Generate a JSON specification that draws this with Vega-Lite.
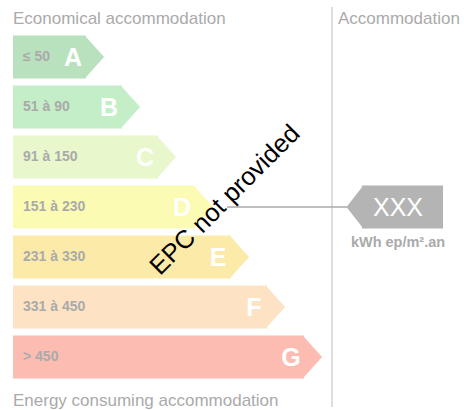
{
  "$schema": "https://vega.github.io/schema/vega-lite/v6.json",
  "width": 464,
  "height": 410,
  "padding": 0,
  "autosize": {"type": "none"},
  "background": "white",
  "config": {"view": {"stroke": null}, "text": {"font": "Liberation Sans"}},
  "datasets": {
    "bands": [
      {"letter": "A", "range": "≤ 50", "start": 13, "end": 86},
      {"letter": "B", "range": "51 à 90", "start": 13, "end": 122},
      {"letter": "C", "range": "91 à 150", "start": 13, "end": 158},
      {"letter": "D", "range": "151 à 230", "start": 13, "end": 195},
      {"letter": "E", "range": "231 à 330", "start": 13, "end": 231},
      {"letter": "F", "range": "331 à 450", "start": 13, "end": 267},
      {"letter": "G", "range": "> 450", "start": 13, "end": 304}
    ],
    "marker": [
      {"row": "D", "label": "XXX", "unit": "kWh ep/m².an", "left": 362, "right": 443, "lineStart": 227, "center": 398}
    ],
    "titles": [
      {"row": "top", "x": 13, "text": "Economical accommodation"},
      {"row": "top", "x": 338, "text": "Accommodation"}
    ],
    "bottomTitle": [
      {"row": "bottom", "x": 13, "text": "Energy consuming accommodation"}
    ],
    "divider": [{"x": 332, "from": "top", "to": "bottom"}],
    "stamp": [{"row": "D", "x": 218, "text": "EPC not provided"}]
  },
  "layer": [
    {
      "data": {"name": "divider"},
      "mark": {"type": "rule", "color": "#dddddd", "strokeWidth": 2},
      "encoding": {
        "x": {"field": "x", "type": "quantitative", "scale": {"domain": [0, 464], "nice": false, "zero": false}, "axis": null},
        "y": {"field": "from", "type": "nominal", "scale": {"domain": ["top", "A", "B", "C", "D", "E", "F", "G", "bottom"], "range": [-18, 432], "paddingInner": 0.14, "paddingOuter": 0.07}, "axis": null},
        "y2": {"field": "to"}
      }
    },
    {
      "data": {"name": "bands"},
      "mark": {"type": "rect"},
      "encoding": {
        "x": {"field": "start", "type": "quantitative", "scale": {"domain": [0, 464], "nice": false, "zero": false}, "axis": null},
        "x2": {"field": "end"},
        "y": {"field": "letter", "type": "nominal", "scale": {"domain": ["top", "A", "B", "C", "D", "E", "F", "G", "bottom"], "range": [-18, 432], "paddingInner": 0.14, "paddingOuter": 0.07}, "axis": null},
        "color": {"field": "letter", "type": "nominal", "scale": {"domain": ["A", "B", "C", "D", "E", "F", "G"], "range": ["#b9e1be", "#c4eec8", "#e8f8cc", "#fbfbb4", "#fbeaa8", "#fde3c4", "#fcbcb2"]}, "legend": null}
      }
    },
    {
      "data": {"name": "bands"},
      "mark": {"type": "point", "shape": "M-0.06,-1L0.84,0L-0.06,1Z", "size": 1849, "filled": true, "opacity": 1, "strokeWidth": 0},
      "encoding": {
        "x": {"field": "end", "type": "quantitative", "scale": {"domain": [0, 464], "nice": false, "zero": false}, "axis": null},
        "y": {"field": "letter", "type": "nominal", "scale": {"domain": ["top", "A", "B", "C", "D", "E", "F", "G", "bottom"], "range": [-18, 432], "paddingInner": 0.14, "paddingOuter": 0.07}, "axis": null},
        "color": {"field": "letter", "type": "nominal", "scale": {"domain": ["A", "B", "C", "D", "E", "F", "G"], "range": ["#b9e1be", "#c4eec8", "#e8f8cc", "#fbfbb4", "#fbeaa8", "#fde3c4", "#fcbcb2"]}, "legend": null}
      }
    },
    {
      "data": {"name": "bands"},
      "mark": {"type": "text", "align": "left", "baseline": "middle", "dx": 10, "fontSize": 14, "fontWeight": "bold", "color": "#aaaaaa"},
      "encoding": {
        "x": {"field": "start", "type": "quantitative", "scale": {"domain": [0, 464], "nice": false, "zero": false}, "axis": null},
        "y": {"field": "letter", "type": "nominal", "scale": {"domain": ["top", "A", "B", "C", "D", "E", "F", "G", "bottom"], "range": [-18, 432], "paddingInner": 0.14, "paddingOuter": 0.07}, "axis": null},
        "text": {"field": "range"}
      }
    },
    {
      "data": {"name": "bands"},
      "mark": {"type": "text", "align": "center", "baseline": "middle", "dx": -13, "dy": 1, "fontSize": 25, "fontWeight": "bold", "color": "white"},
      "encoding": {
        "x": {"field": "end", "type": "quantitative", "scale": {"domain": [0, 464], "nice": false, "zero": false}, "axis": null},
        "y": {"field": "letter", "type": "nominal", "scale": {"domain": ["top", "A", "B", "C", "D", "E", "F", "G", "bottom"], "range": [-18, 432], "paddingInner": 0.14, "paddingOuter": 0.07}, "axis": null},
        "text": {"field": "letter"}
      }
    },
    {
      "data": {"name": "marker"},
      "mark": {"type": "rule", "color": "#aaaaaa", "strokeWidth": 1.5},
      "encoding": {
        "x": {"field": "lineStart", "type": "quantitative", "scale": {"domain": [0, 464], "nice": false, "zero": false}, "axis": null},
        "x2": {"field": "left"},
        "y": {"field": "row", "type": "nominal", "scale": {"domain": ["top", "A", "B", "C", "D", "E", "F", "G", "bottom"], "range": [-18, 432], "paddingInner": 0.14, "paddingOuter": 0.07}, "axis": null}
      }
    },
    {
      "data": {"name": "marker"},
      "mark": {"type": "rect", "color": "#b4b4b4"},
      "encoding": {
        "x": {"field": "left", "type": "quantitative", "scale": {"domain": [0, 464], "nice": false, "zero": false}, "axis": null},
        "x2": {"field": "right"},
        "y": {"field": "row", "type": "nominal", "scale": {"domain": ["top", "A", "B", "C", "D", "E", "F", "G", "bottom"], "range": [-18, 432], "paddingInner": 0.14, "paddingOuter": 0.07}, "axis": null}
      }
    },
    {
      "data": {"name": "marker"},
      "mark": {"type": "point", "shape": "M0.06,-1L-0.72,0L0.06,1Z", "size": 1849, "filled": true, "opacity": 1, "strokeWidth": 0, "color": "#b4b4b4"},
      "encoding": {
        "x": {"field": "left", "type": "quantitative", "scale": {"domain": [0, 464], "nice": false, "zero": false}, "axis": null},
        "y": {"field": "row", "type": "nominal", "scale": {"domain": ["top", "A", "B", "C", "D", "E", "F", "G", "bottom"], "range": [-18, 432], "paddingInner": 0.14, "paddingOuter": 0.07}, "axis": null}
      }
    },
    {
      "data": {"name": "marker"},
      "mark": {"type": "text", "align": "center", "baseline": "middle", "dy": 1, "fontSize": 25, "color": "white"},
      "encoding": {
        "x": {"field": "center", "type": "quantitative", "scale": {"domain": [0, 464], "nice": false, "zero": false}, "axis": null},
        "y": {"field": "row", "type": "nominal", "scale": {"domain": ["top", "A", "B", "C", "D", "E", "F", "G", "bottom"], "range": [-18, 432], "paddingInner": 0.14, "paddingOuter": 0.07}, "axis": null},
        "text": {"field": "label"}
      }
    },
    {
      "data": {"name": "marker"},
      "mark": {"type": "text", "align": "center", "baseline": "middle", "dy": 36, "fontSize": 14.5, "fontWeight": "bold", "color": "#aaaaaa"},
      "encoding": {
        "x": {"field": "center", "type": "quantitative", "scale": {"domain": [0, 464], "nice": false, "zero": false}, "axis": null},
        "y": {"field": "row", "type": "nominal", "scale": {"domain": ["top", "A", "B", "C", "D", "E", "F", "G", "bottom"], "range": [-18, 432], "paddingInner": 0.14, "paddingOuter": 0.07}, "axis": null},
        "text": {"field": "unit"}
      }
    },
    {
      "data": {"name": "titles"},
      "mark": {"type": "text", "align": "left", "baseline": "alphabetic", "dy": 17, "fontSize": 17, "color": "#aaaaaa"},
      "encoding": {
        "x": {"field": "x", "type": "quantitative", "scale": {"domain": [0, 464], "nice": false, "zero": false}, "axis": null},
        "y": {"field": "row", "type": "nominal", "scale": {"domain": ["top", "A", "B", "C", "D", "E", "F", "G", "bottom"], "range": [-18, 432], "paddingInner": 0.14, "paddingOuter": 0.07}, "axis": null},
        "text": {"field": "text"}
      }
    },
    {
      "data": {"name": "bottomTitle"},
      "mark": {"type": "text", "align": "left", "baseline": "alphabetic", "dy": -1, "fontSize": 17, "color": "#aaaaaa"},
      "encoding": {
        "x": {"field": "x", "type": "quantitative", "scale": {"domain": [0, 464], "nice": false, "zero": false}, "axis": null},
        "y": {"field": "row", "type": "nominal", "scale": {"domain": ["top", "A", "B", "C", "D", "E", "F", "G", "bottom"], "range": [-18, 432], "paddingInner": 0.14, "paddingOuter": 0.07}, "axis": null},
        "text": {"field": "text"}
      }
    },
    {
      "data": {"name": "stamp"},
      "mark": {"type": "text", "align": "center", "baseline": "middle", "angle": -45, "dx": 10, "fontSize": 25.5, "color": "black"},
      "encoding": {
        "x": {"field": "x", "type": "quantitative", "scale": {"domain": [0, 464], "nice": false, "zero": false}, "axis": null},
        "y": {"field": "row", "type": "nominal", "scale": {"domain": ["top", "A", "B", "C", "D", "E", "F", "G", "bottom"], "range": [-18, 432], "paddingInner": 0.14, "paddingOuter": 0.07}, "axis": null},
        "text": {"field": "text"}
      }
    }
  ]
}
